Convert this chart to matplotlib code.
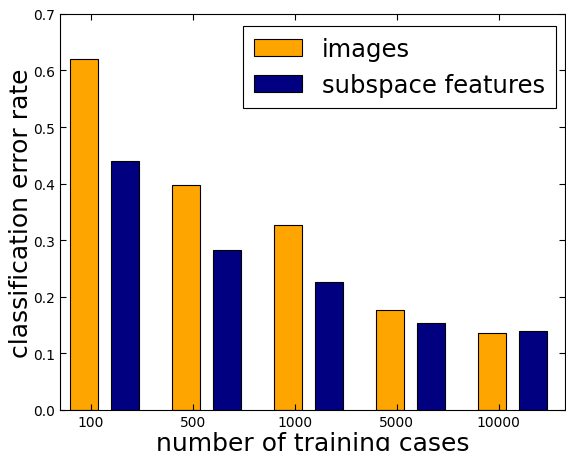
import numpy as np
import matplotlib
matplotlib.use("Agg")
import matplotlib.pyplot as plt

# data
cases = ["100", "500", "1000", "5000", "10000"]
images_err = [0.62, 0.398, 0.326, 0.177, 0.136]
subspace_err = [0.44, 0.282, 0.226, 0.154, 0.140]

fig = plt.figure(figsize=(5.66, 4.52), dpi=100)
ax = fig.add_axes([0.106, 0.091, 0.892, 0.876])

x = np.arange(len(cases))
w = 0.27
ax.bar(x, images_err, w, align='edge', color='orange', edgecolor='black',
       linewidth=0.8, label='images')
ax.bar(x + 0.40, subspace_err, w, align='edge', color='navy', edgecolor='black',
       linewidth=0.8, label='subspace features')

ax.set_xlim(-0.1, 4.85)
ax.set_ylim(0, 0.7)
ax.set_xticks(x + 0.2)
ax.set_xticklabels(cases)
ax.set_yticks(np.arange(0, 0.71, 0.1))
ax.tick_params(direction='in', length=4, labelsize=10, top=True, right=True)
ax.tick_params(axis='x', pad=4)

ax.set_xlabel('number of training cases', fontsize=18, labelpad=1)
ax.set_ylabel('classification error rate', fontsize=18, labelpad=0)

leg = ax.legend(loc='upper right', bbox_to_anchor=(0.982, 0.97), fontsize=17.5,
                fancybox=False, framealpha=1, edgecolor='black',
                handlelength=2.0, handleheight=0.7, borderpad=0.45,
                labelspacing=0.5, borderaxespad=0)
leg.get_frame().set_linewidth(0.8)

fig.savefig('out.png', dpi=100)
